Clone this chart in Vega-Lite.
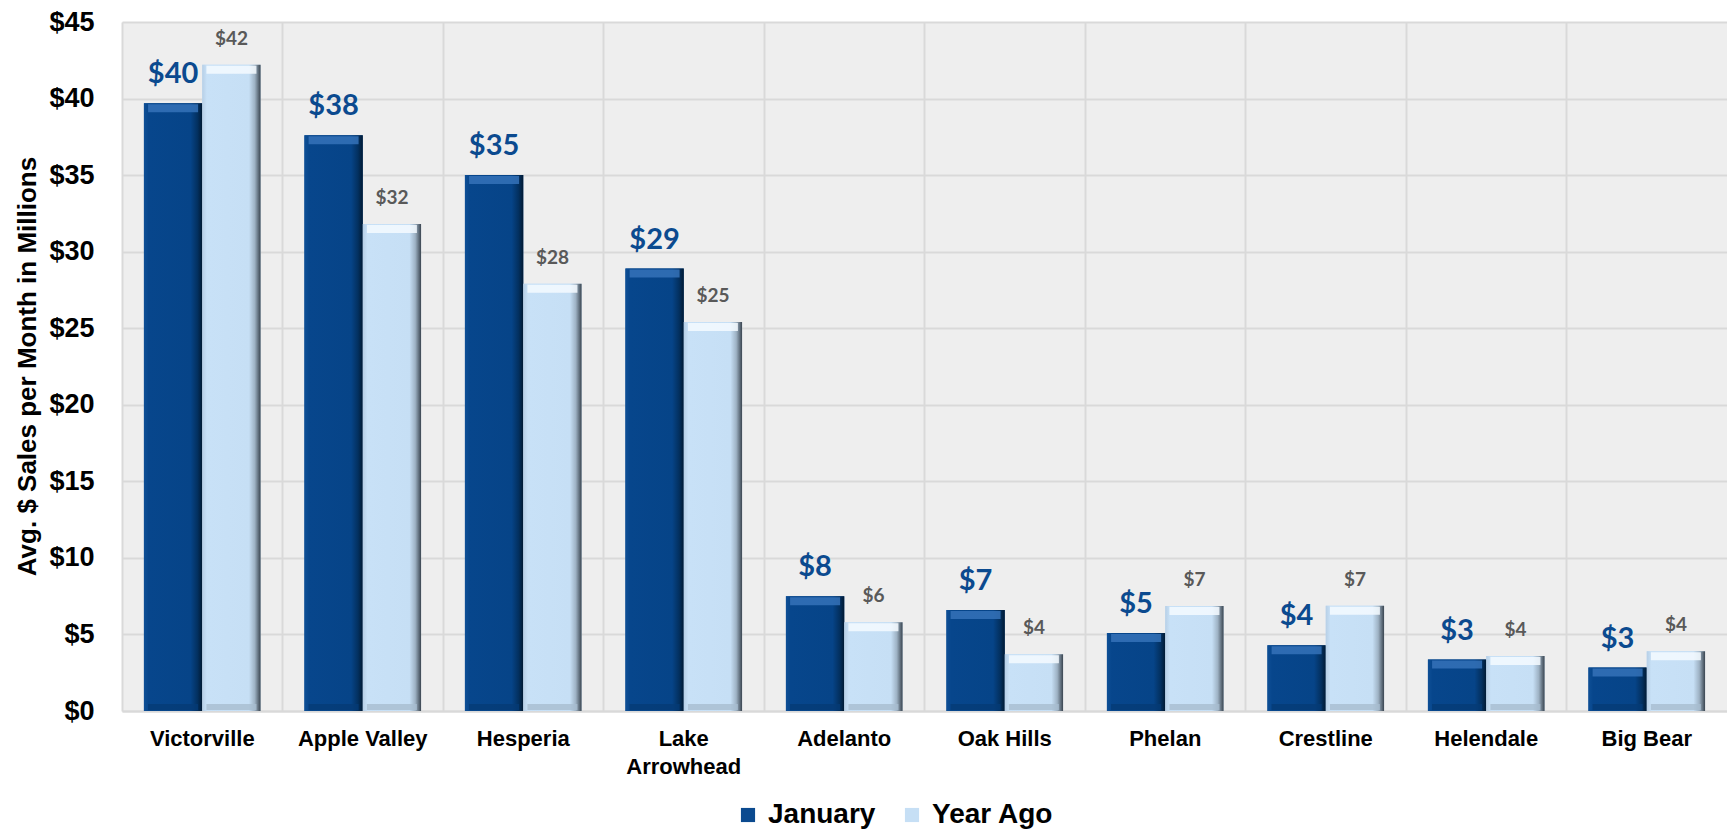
{
  "$schema": "https://vega.github.io/schema/vega-lite/v6.json",
  "autosize": {"type": "none"},
  "padding": {"left": 122, "top": 22, "right": 0, "bottom": 121},
  "width": 1605,
  "height": 689,
  "background": "#FFFFFF",
  "data": {
    "values": [
      {"city": "Victorville", "series": "January", "sales": 39.7},
      {"city": "Victorville", "series": "Year Ago", "sales": 42.2},
      {"city": "Apple Valley", "series": "January", "sales": 37.6},
      {"city": "Apple Valley", "series": "Year Ago", "sales": 31.8},
      {"city": "Hesperia", "series": "January", "sales": 35.0},
      {"city": "Hesperia", "series": "Year Ago", "sales": 27.9},
      {"city": "Lake Arrowhead", "series": "January", "sales": 28.9},
      {"city": "Lake Arrowhead", "series": "Year Ago", "sales": 25.4},
      {"city": "Adelanto", "series": "January", "sales": 7.5},
      {"city": "Adelanto", "series": "Year Ago", "sales": 5.8},
      {"city": "Oak Hills", "series": "January", "sales": 6.6},
      {"city": "Oak Hills", "series": "Year Ago", "sales": 3.7},
      {"city": "Phelan", "series": "January", "sales": 5.1},
      {"city": "Phelan", "series": "Year Ago", "sales": 6.85},
      {"city": "Crestline", "series": "January", "sales": 4.3},
      {"city": "Crestline", "series": "Year Ago", "sales": 6.87},
      {"city": "Helendale", "series": "January", "sales": 3.36},
      {"city": "Helendale", "series": "Year Ago", "sales": 3.6},
      {"city": "Big Bear", "series": "January", "sales": 2.84},
      {"city": "Big Bear", "series": "Year Ago", "sales": 3.9}
    ]
  },
  "encoding": {
    "x": {
      "field": "city",
      "type": "nominal",
      "sort": null,
      "scale": {"paddingInner": 0, "paddingOuter": 0},
      "axis": {
        "title": null,
        "bandPosition": 0,
        "grid": true,
        "gridColor": "#D9D9D9",
        "gridWidth": 2,
        "ticks": false,
        "domain": true,
        "domainColor": "#D9D9D9",
        "domainWidth": 2,
        "labelAngle": 0,
        "labelAlign": "center",
        "labelBaseline": "top",
        "labelFont": "Liberation Sans",
        "labelFontSize": 22,
        "labelFontWeight": "bold",
        "labelColor": "#000000",
        "labelPadding": 17,
        "labelLineHeight": 28,
        "labelExpr": "datum.label == 'Lake Arrowhead' ? ['Lake', 'Arrowhead'] : datum.label"
      }
    },
    "xOffset": {
      "field": "series",
      "type": "nominal",
      "scale": {"paddingInner": 0, "paddingOuter": 0.376}
    },
    "y": {
      "field": "sales",
      "type": "quantitative",
      "scale": {"domain": [0, 45], "nice": false},
      "axis": {
        "title": "Avg. $ Sales per Month in Millions",
        "titleFont": "Liberation Sans",
        "titleFontSize": 26,
        "titleFontWeight": "bold",
        "titleColor": "#000000",
        "titleAngle": -90,
        "titleAlign": "center",
        "titleBaseline": "middle",
        "titleX": -95,
        "titleY": 344,
        "values": [0, 5, 10, 15, 20, 25, 30, 35, 40, 45],
        "labelExpr": "'$' + datum.value",
        "labelFont": "Liberation Sans",
        "labelFontSize": 27,
        "labelFontWeight": "bold",
        "labelColor": "#000000",
        "labelPadding": 28,
        "ticks": false,
        "domain": false,
        "grid": true,
        "gridColor": "#D9D9D9",
        "gridWidth": 2
      }
    }
  },
  "layer": [
    {
      "mark": {"type": "bar"},
      "encoding": {
        "color": {
          "field": "series",
          "type": "nominal",
          "scale": {"domain": ["January", "Year Ago"], "range": ["#0B4A8F", "#C6DFF5"]},
          "legend": {
            "title": null,
            "orient": "none",
            "direction": "horizontal",
            "legendX": 612,
            "legendY": 779,
            "symbolType": "square",
            "symbolSize": 200,
            "symbolStrokeWidth": 0,
            "symbolOpacity": 1,
            "labelFont": "Liberation Sans",
            "labelFontSize": 28,
            "labelFontWeight": "bold",
            "labelColor": "#000000",
            "labelOffset": 6,
            "columnPadding": 22
          }
        }
      }
    },
    {
      "mark": {"type": "bar"},
      "encoding": {
        "fill": {
          "condition": {
            "test": "datum.series === 'January'",
            "value": {
              "gradient": "linear",
              "x1": 0, "y1": 0, "x2": 1, "y2": 0,
              "stops": [
                {"offset": 0, "color": "#0E4F96"},
                {"offset": 0.08, "color": "#07468C"},
                {"offset": 0.8, "color": "#064488"},
                {"offset": 0.92, "color": "#03305F"},
                {"offset": 1, "color": "#011A33"}
              ]
            }
          },
          "value": {
            "gradient": "linear",
            "x1": 0, "y1": 0, "x2": 1, "y2": 0,
            "stops": [
              {"offset": 0, "color": "#B7CFE6"},
              {"offset": 0.08, "color": "#C8E1F7"},
              {"offset": 0.8, "color": "#C6DFF5"},
              {"offset": 0.9, "color": "#9EB2C4"},
              {"offset": 1, "color": "#3A4550"}
            ]
          }
        }
      }
    },
    {
      "mark": {"type": "tick", "size": 50, "thickness": 8, "yOffset": 5, "opacity": 0.85},
      "encoding": {
        "color": {
          "condition": {"test": "datum.series === 'January'", "value": "#3572B8"},
          "value": "#F4FAFF"
        }
      }
    },
    {
      "mark": {"type": "tick", "size": 50, "thickness": 6, "yOffset": -4, "opacity": 0.8},
      "encoding": {
        "y": {"datum": 0},
        "color": {
          "condition": {"test": "datum.series === 'January'", "value": "#053B76"},
          "value": "#A8BDD0"
        }
      }
    },
    {
      "mark": {
        "type": "text",
        "font": "Lato",
        "fontWeight": "bold",
        "baseline": "alphabetic",
        "align": "center",
        "dy": -20
      },
      "encoding": {
        "text": {"field": "sales", "type": "quantitative", "format": "$,.0f"},
        "color": {
          "condition": {"test": "datum.series === 'January'", "value": "#0B4A8F"},
          "value": "#595959"
        },
        "size": {
          "condition": {"test": "datum.series === 'January'", "value": 29},
          "value": 19
        }
      }
    }
  ],
  "config": {
    "view": {"fill": "#EEEEEE", "stroke": null}
  }
}
